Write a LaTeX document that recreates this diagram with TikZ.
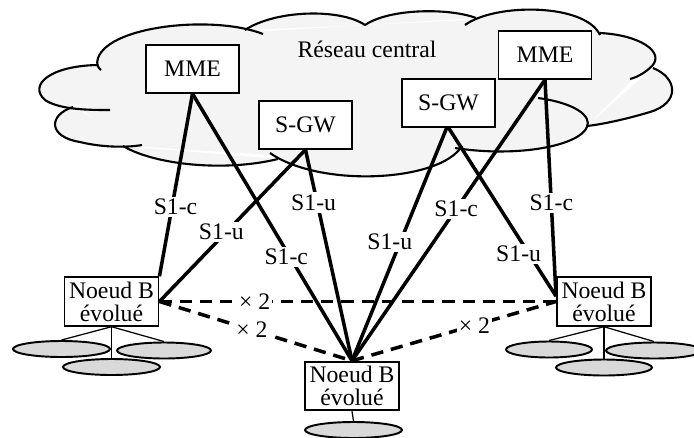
\documentclass[tikz,border=0pt]{standalone}
\usepackage{fontspec}
\setmainfont{Liberation Serif}
\usetikzlibrary{positioning,shapes.geometric}
\definecolor{cloudgray}{HTML}{F4F4F4}
\definecolor{cellgray}{HTML}{D9D9D9}

\tikzset{
    entity/.style={draw, fill=white, line width=1.1pt, inner sep=0pt, minimum width=1.86cm, minimum height=0.95cm, font=\fontsize{13.5}{14}\selectfont},
    enodeb/.style={entity, minimum width=1.88cm, minimum height=0.97cm, align=center, font=\fontsize{13.5}{13}\selectfont},
    link/.style={line width=2pt},
    xlink/.style={line width=2pt, dash pattern=on 7pt off 4.5pt},
    lbl/.style={fill=white, inner sep=1.2pt, font=\fontsize{13.5}{14}\selectfont},
    cell/.style={draw, fill=cellgray, ellipse, line width=1.1pt, inner sep=0pt, minimum height=0.32cm},
    feed/.style={line width=0.7pt}
}

\begin{document}
\begin{tikzpicture}[x=0.02cm, y=-0.02cm]
    \useasboundingbox (0,0) rectangle (694,437);

    % Cloud of the core network, one lobe at a time
    \def\cloudlobes{%
        {(263,34) .. controls (215,15) and (110,25) .. (98,58) .. controls (96,64) and (98,68) .. (101,70)},%
        {(97,65) .. controls (50,66) and (28,85) .. (45,100) .. controls (60,110) and (90,110) .. (110,110)},%
        {(73,107) .. controls (48,115) and (48,137) .. (80,142) .. controls (100,147) and (125,148) .. (142,145)},%
        {(123,146) .. controls (155,165) and (225,172) .. (278,159)},%
        {(270,153) .. controls (320,188) and (440,182) .. (462,146)},%
        {(538,98) .. controls (575,103) and (592,116) .. (587,127) .. controls (580,145) and (520,158) .. (455,148)},%
        {(653,68) .. controls (678,78) and (680,103) .. (650,112) .. controls (630,118) and (605,124) .. (587,126)},%
        {(600,33) .. controls (640,35) and (665,52) .. (652,66) .. controls (646,72) and (638,77) .. (630,79)},%
        {(465,25) .. controls (495,3) and (585,3) .. (600,35)},%
        {(365,25) .. controls (390,8) and (450,8) .. (476,18)},%
        {(245,30) .. controls (275,10) and (340,8) .. (365,25)}}
    \fill[cloudgray] (101,68) -- (250,32) -- (365,25) -- (470,20) -- (600,34) -- (640,72)
        -- (587,126) -- (455,148) -- (270,155) -- (130,146) -- (80,108) -- cycle;
    \foreach \lobe in \cloudlobes {
        \fill[cloudgray] \lobe;
    };
    \foreach \lobe in \cloudlobes {
        \draw[line width=1.2pt] \lobe;
    };
    \node[font=\fontsize{13.5}{14}\selectfont] (core) at (367,49) {Réseau central};

    % Core entities
    \node[entity] (mmeL) at (192.5,69) {MME};
    \node[entity] (sgwL) at (305.5,125) {S-GW};
    \node[entity] (sgwR) at (448.5,103) {S-GW};
    \node[entity] (mmeR) at (545,55) {MME};

    % Evolved base stations
    \node[enodeb] (enbL) at (111.5,301.5) {Noeud B\\évolué};
    \node[enodeb] (enbC) at (352,386) {Noeud B\\évolué};
    \node[enodeb] (enbR) at (604,301.5) {Noeud B\\évolué};

    % Cells under each base station
    \node[cell, minimum width=1.94cm] (cL1) at (61.5,349) {};
    \node[cell, minimum width=1.88cm] (cL2) at (164,350.5) {};
    \node[cell, minimum width=1.94cm] (cL3) at (111.5,367) {};
    \node[cell, minimum width=1.72cm] (cR1) at (549,349.5) {};
    \node[cell, minimum width=1.92cm] (cR2) at (654,350.5) {};
    \node[cell, minimum width=1.92cm] (cR3) at (604,367.5) {};
    \node[cell, minimum width=1.94cm] (cC) at (353.5,430) {};
    \foreach \b/\c in {enbL/cL1, enbL/cL2, enbL/cL3, enbR/cR1, enbR/cR2, enbR/cR3, enbC/cC} {
        \draw[feed] (\b.south) -- (\c.north);
    };

    % S1 interfaces
    \draw[link] (mmeL.south) -- node[lbl, pos=0.62, xshift=2pt] {S1-c} (enbL.north east);
    \draw[link] (mmeL.south) -- node[lbl, pos=0.61, xshift=-2pt] {S1-c} (enbC.north);
    \draw[link] (sgwL.south) -- node[lbl, pos=0.54, xshift=-3pt] {S1-u} (enbL.east);
    \draw[link] (sgwL.south) -- node[lbl, pos=0.25, xshift=-2pt] {S1-u} (enbC.north);
    \draw[link] ([xshift=-1pt]sgwR.south) -- node[lbl, pos=0.49, xshift=-6pt] {S1-u} (enbC.north);
    \draw[link] (sgwR.south) -- node[lbl, pos=0.75, xshift=-6pt] {S1-u} ([yshift=3pt]enbR.west);
    \draw[link] (mmeR.south) -- node[lbl, pos=0.46] {S1-c} (enbC.north);
    \draw[link] (mmeR.south) -- node[lbl, pos=0.57] {S1-c} ([yshift=3pt]enbR.west);

    % X2 interfaces
    \draw[xlink] (enbL.east) -- node[lbl, pos=0.24] {× 2} (enbR.west);
    \draw[xlink] (enbL.east) -- node[lbl, pos=0.48] {× 2} (enbC.north);
    \draw[xlink] (enbC.north) -- node[lbl, pos=0.6] {× 2} (enbR.west);
\end{tikzpicture}
\end{document}
